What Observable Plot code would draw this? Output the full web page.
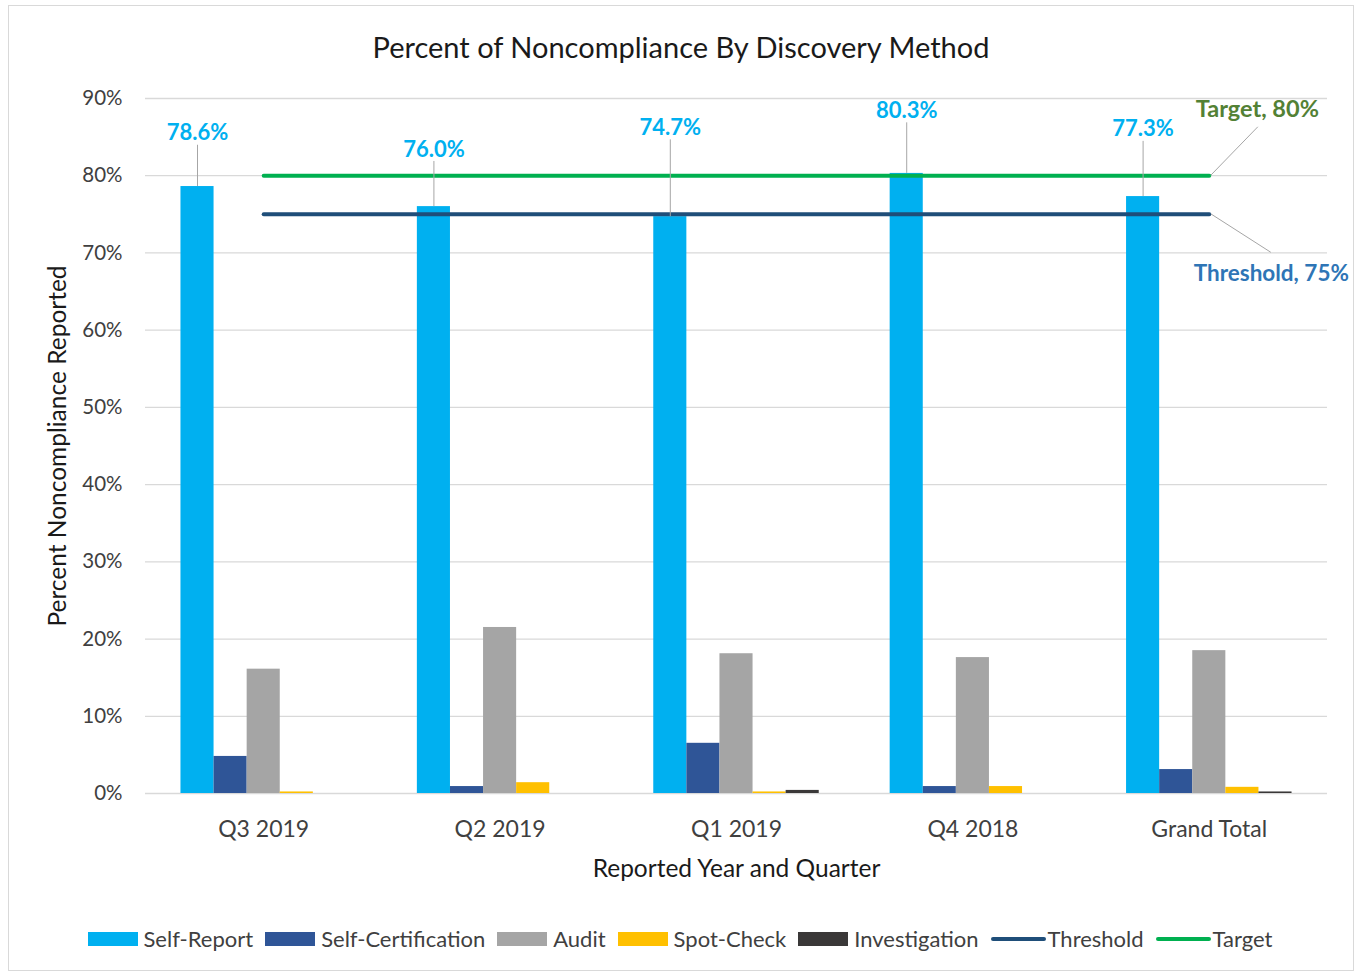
<!DOCTYPE html>
<html><head><meta charset="utf-8">
<script src="https://cdn.jsdelivr.net/npm/d3@7"></script>
<script src="https://cdn.jsdelivr.net/npm/@observablehq/plot@0.6"></script>
<style>
body{margin:0;background:#fff;font-family:Lato,"Open Sans",sans-serif;}
#frame{position:absolute;left:8px;top:5px;width:1346px;height:966px;border:1px solid #d9d9d9;box-sizing:border-box;}
#title{position:absolute;left:0;top:30px;width:1362px;text-align:center;font-size:29px;color:#1a1a1a;line-height:34px;}
#chart{position:absolute;left:0;top:70px;}
#legend{position:absolute;top:926px;left:0;width:1372px;display:flex;justify-content:center;align-items:center;font-size:22px;color:#404040;line-height:26px;}
.item{display:flex;align-items:center;margin-right:12px;}
.sw{width:50px;height:14px;margin-right:6px;}
.ln{width:55px;height:4px;border-radius:2px;margin-right:2px;}
#chart svg [aria-label^="x-axis"] text{font-size:23px;}
#chart svg [aria-label^="y-axis"] text{font-size:20.5px;}
</style>
</head><body>
<div id="frame"></div>
<div id="title"></div>
<div id="chart"></div>
<div id="legend"></div>
<script>
const chartTitle = "Percent of Noncompliance By Discovery Method";
const xTitle = "Reported Year and Quarter";
const yTitle = "Percent Noncompliance Reported";
const categories = ["Q3 2019", "Q2 2019", "Q1 2019", "Q4 2018", "Grand Total"];
const seriesNames = ["Self-Report", "Self-Certification", "Audit", "Spot-Check", "Investigation"];
const seriesColors = ["#00B0F0", "#2F5597", "#A5A5A5", "#FFC000", "#3A3838"];
const selfReport = [78.6, 76.0, 74.7, 80.3, 77.3];
const selfCertification = [4.8, 0.9, 6.5, 0.9, 3.1];
const audit = [16.1, 21.5, 18.1, 17.6, 18.5];
const spotCheck = [0.2, 1.4, 0.2, 0.9, 0.8];
const investigation = [0, 0, 0.4, 0, 0.2];
const yTicks = [0, 10, 20, 30, 40, 50, 60, 70, 80, 90];
const thresholdValue = 75;
const targetValue = 80;
const thresholdColor = "#1F4E79";
const targetColor = "#00B050";
const srLabelAt = [85.5, 83.4, 86.2, 88.4, 86.0];
const targetLabelAt = 88.6;
const thresholdLabelAt = 67.3;

const seriesValues = [selfReport, selfCertification, audit, spotCheck, investigation];

document.getElementById("title").textContent = chartTitle;

const W = 1356, H = 820, mL = 145, mR = 29, mT = 28, mB = 97;
const pIn = 0.3, pOut = 0.15;
const step = (W - mL - mR) / (categories.length - pIn + 2 * pOut);
const bw = step * (1 - pIn);
const sub = bw / seriesNames.length;

const first = categories[0], last = categories[categories.length - 1];
const srData = categories.map((c, j) => ({cat: c, v: selfReport[j], lab: srLabelAt[j]}));

function leaders(index, scales) {
  const xs = scales.x, ys = scales.y;
  const b = typeof xs.bandwidth === "function" ? xs.bandwidth() : (xs.bandwidth || 0);
  const cx = xs(last) + b / 2;
  const g = d3.create("svg:g").attr("stroke", "#a6a6a6").attr("stroke-width", 1);
  g.append("line").attr("x1", cx + 2).attr("y1", ys(targetValue)).attr("x2", cx + 49).attr("y2", ys(targetLabelAt) + 18);
  g.append("line").attr("x1", cx + 2).attr("y1", ys(thresholdValue)).attr("x2", cx + 62).attr("y2", ys(thresholdLabelAt) - 21);
  return g.node();
}

const marks = [
  Plot.ruleY(yTicks, {stroke: "#d9d9d9", strokeWidth: 1.3}),
  ...seriesValues.map((vals, i) => Plot.barY(
    categories.map((c, j) => ({cat: c, v: vals[j]})),
    {x: "cat", y: "v", fill: seriesColors[i], insetLeft: i * sub, insetRight: (seriesNames.length - 1 - i) * sub}
  )),
  Plot.lineY([{cat: first, v: thresholdValue}, {cat: last, v: thresholdValue}], {x: "cat", y: "v", stroke: thresholdColor, strokeWidth: 4}),
  Plot.lineY([{cat: first, v: targetValue}, {cat: last, v: targetValue}], {x: "cat", y: "v", stroke: targetColor, strokeWidth: 4}),
  Plot.ruleX(srData, {x: "cat", y1: "lab", y2: "v", dx: -2 * sub, stroke: "#a6a6a6", insetTop: 12}),
  Plot.text(srData, {x: "cat", y: "lab", text: d => d.v.toFixed(1) + "%", dx: -2 * sub, fill: "#00B0F0", fontWeight: "bold", fontSize: 22}),
  leaders,
  Plot.text([{cat: last, v: targetLabelAt}], {x: "cat", y: "v", text: () => "Target, " + targetValue + "%", dx: 48, fill: "#538135", fontWeight: "bold", fontSize: 23.5}),
  Plot.text([{cat: last, v: thresholdLabelAt}], {x: "cat", y: "v", text: () => "Threshold, " + thresholdValue + "%", dx: 62, fill: "#2E75B6", fontWeight: "bold", fontSize: 22.5}),
  Plot.text([yTitle], {frameAnchor: "left", textAnchor: "middle", rotate: -90, dx: -87, fontSize: 24.5, fill: "#1a1a1a"}),
  Plot.text([xTitle], {frameAnchor: "bottom", dy: 83, fontSize: 24.5, fill: "#1a1a1a"})
];

const chart = Plot.plot({
  width: W, height: H,
  marginLeft: mL, marginRight: mR, marginTop: mT, marginBottom: mB,
  style: {fontFamily: "Lato, 'Open Sans', sans-serif", color: "#404040", background: "transparent", overflow: "visible"},
  x: {domain: categories, paddingInner: pIn, paddingOuter: pOut, round: false, tickSize: 0, tickPadding: 27, label: null},
  y: {domain: [0, 90], ticks: yTicks, tickFormat: d => d + "%", tickSize: 0, tickPadding: 23, label: null},
  marks
});
document.getElementById("chart").appendChild(chart);

const legend = document.getElementById("legend");
seriesNames.forEach((n, i) => {
  const it = document.createElement("div"); it.className = "item";
  it.innerHTML = `<div class="sw" style="background:${seriesColors[i]}"></div><span>${n}</span>`;
  legend.appendChild(it);
});
[["Threshold", thresholdColor], ["Target", targetColor]].forEach(([n, c]) => {
  const it = document.createElement("div"); it.className = "item";
  it.innerHTML = `<div class="ln" style="background:${c}"></div><span>${n}</span>`;
  legend.appendChild(it);
});
</script>
</body></html>
